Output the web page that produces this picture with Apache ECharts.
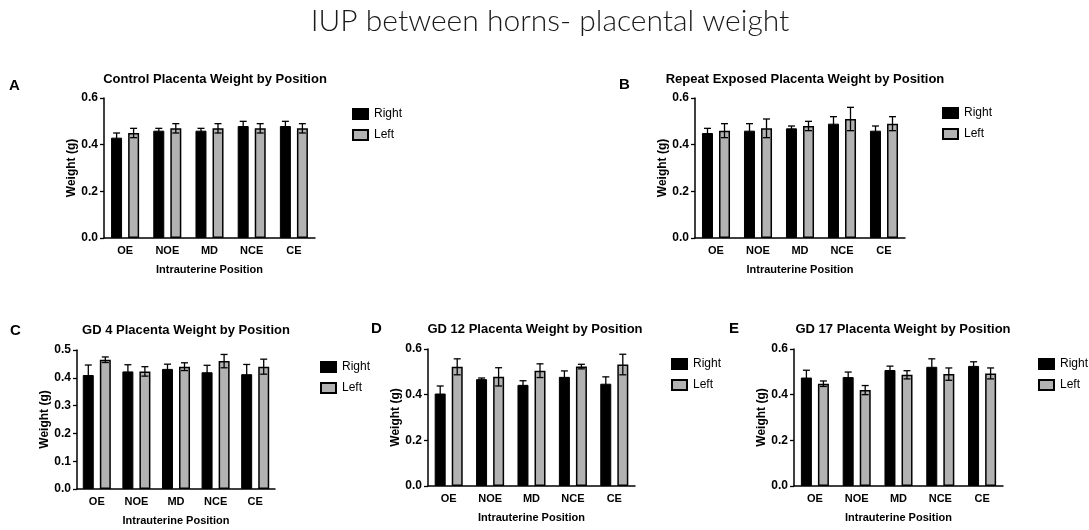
<!DOCTYPE html>
<html>
<head>
<meta charset="utf-8">
<title>IUP between horns- placental weight</title>
<script src="https://cdn.jsdelivr.net/npm/echarts@6/dist/echarts.min.js"></script>
<style>
  html, body { margin: 0; padding: 0; background: #fff; }
  #main { width: 1089px; height: 530px; }
</style>
</head>
<body>
<div id="main"></div>
<script>
// positions along the horn
var positions = ['OE', 'NOE', 'MD', 'NCE', 'CE'];

// panel titles
var panelTitles = [
  'Control Placenta Weight by Position',
  'Repeat Exposed Placenta Weight by Position',
  'GD 4 Placenta Weight by Position',
  'GD 12 Placenta Weight by Position',
  'GD 17 Placenta Weight by Position'
];
var panelLetters = ['A', 'B', 'C', 'D', 'E'];

// mean weight (g) and error
var controlRight = [0.43, 0.46, 0.46, 0.48, 0.48];
var controlRightErr = [0.02, 0.01, 0.01, 0.02, 0.02];
var controlLeft = [0.45, 0.47, 0.47, 0.47, 0.47];
var controlLeftErr = [0.02, 0.02, 0.02, 0.02, 0.02];

var repeatRight = [0.45, 0.46, 0.47, 0.49, 0.46];
var repeatRightErr = [0.02, 0.03, 0.01, 0.03, 0.02];
var repeatLeft = [0.46, 0.47, 0.48, 0.51, 0.49];
var repeatLeftErr = [0.03, 0.04, 0.02, 0.05, 0.03];

var gd4Right = [0.41, 0.423, 0.432, 0.42, 0.413];
var gd4RightErr = [0.036, 0.024, 0.017, 0.025, 0.035];
var gd4Left = [0.465, 0.423, 0.44, 0.46, 0.44];
var gd4LeftErr = [0.01, 0.017, 0.014, 0.024, 0.027];

var gd12Right = [0.405, 0.468, 0.443, 0.478, 0.448];
var gd12RightErr = [0.033, 0.005, 0.018, 0.026, 0.03];
var gd12Left = [0.522, 0.478, 0.505, 0.523, 0.532];
var gd12LeftErr = [0.035, 0.04, 0.03, 0.01, 0.045];

var gd17Right = [0.475, 0.477, 0.508, 0.522, 0.526];
var gd17RightErr = [0.032, 0.022, 0.017, 0.035, 0.018];
var gd17Left = [0.448, 0.42, 0.487, 0.49, 0.493];
var gd17LeftErr = [0.012, 0.02, 0.018, 0.027, 0.024];

// y axis ranges
var yMax = [0.6, 0.6, 0.5, 0.6, 0.6];
var yStep = [0.2, 0.2, 0.1, 0.2, 0.2];

var panels = [
  [controlRight, controlRightErr, controlLeft, controlLeftErr],
  [repeatRight, repeatRightErr, repeatLeft, repeatLeftErr],
  [gd4Right, gd4RightErr, gd4Left, gd4LeftErr],
  [gd12Right, gd12RightErr, gd12Left, gd12LeftErr],
  [gd17Right, gd17RightErr, gd17Left, gd17LeftErr]
];

// layout (pixels)
var grids = [
  { left: 104, top: 98, width: 211, height: 140 },
  { left: 695, top: 98, width: 210, height: 140 },
  { left: 77, top: 350, width: 198, height: 139 },
  { left: 428, top: 349, width: 207, height: 137 },
  { left: 794, top: 349, width: 209, height: 137 }
];
var titlePos = [[210, 68], [800, 68], [181, 319], [530, 318], [898, 318]];
var letterPos = [[4, 73], [614, 72], [5, 318], [366, 316], [724, 316]];
var legendPos = [[347, 103], [937, 102], [315, 356], [666, 353], [1033, 353]];

var BAR_W = 11;
var OFFSET = 8.5;
var GREY = '#b2b2b2';
var FONT = 'Liberation Sans, Arial, sans-serif';

function errorBars(offset) {
  return function (params, api) {
    var idx = api.value(0);
    var mean = api.value(1);
    var err = api.value(2);
    var top = api.coord([idx, mean + err]);
    var bot = api.coord([idx, mean - err]);
    var x = top[0] + offset;
    var cap = 3.5;
    var st = { stroke: '#000', lineWidth: 1.3 };
    return {
      type: 'group',
      children: [
        { type: 'line', shape: { x1: x, y1: top[1], x2: x, y2: bot[1] }, style: st },
        { type: 'line', shape: { x1: x - cap, y1: top[1], x2: x + cap, y2: top[1] }, style: st },
        { type: 'line', shape: { x1: x - cap, y1: bot[1], x2: x + cap, y2: bot[1] }, style: st }
      ]
    };
  };
}

var xAxes = [], yAxes = [], series = [], titles = [], legends = [];

titles.push({
  text: 'IUP between horns- placental weight',
  left: 545, top: 1, textAlign: 'center',
  textStyle: { fontFamily: 'Lato, sans-serif', fontWeight: 300, fontSize: 30, color: '#1a1a1a' }
});

for (var i = 0; i < 5; i++) {
  var d = panels[i];
  xAxes.push({
    type: 'category', gridIndex: i, data: positions,
    axisLine: { lineStyle: { color: '#000', width: 1.5 } },
    axisTick: { alignWithLabel: true, length: 4, lineStyle: { color: '#000', width: 1.3 } },
    axisLabel: { color: '#000', fontWeight: 'bold', fontSize: 11, fontFamily: FONT, margin: 7 },
    name: 'Intrauterine Position', nameLocation: 'middle', nameGap: 26,
    nameTextStyle: { color: '#000', fontWeight: 'bold', fontSize: 11, fontFamily: FONT }
  });
  yAxes.push({
    type: 'value', gridIndex: i, min: 0, max: yMax[i], interval: yStep[i],
    splitLine: { show: false },
    axisLine: { show: true, lineStyle: { color: '#000', width: 1.5 } },
    axisTick: { show: true, length: 4, lineStyle: { color: '#000', width: 1.3 } },
    axisLabel: {
      color: '#000', fontWeight: 'bold', fontSize: 12, fontFamily: FONT, margin: 6,
      formatter: function (v) { return v.toFixed(1); }
    },
    name: 'Weight (g)', nameLocation: 'middle', nameGap: 26, nameRotate: 90,
    nameTextStyle: { color: '#000', fontWeight: 'bold', fontSize: 12, fontFamily: FONT }
  });
  series.push({
    name: 'Right', type: 'bar', xAxisIndex: i, yAxisIndex: i,
    data: d[0], barWidth: BAR_W, barGap: '55%',
    itemStyle: { color: '#000', borderColor: '#000', borderWidth: 1 }
  });
  series.push({
    name: 'Left', type: 'bar', xAxisIndex: i, yAxisIndex: i,
    data: d[2], barWidth: BAR_W,
    itemStyle: { color: GREY, borderColor: '#000', borderWidth: 1.5 }
  });
  var rErr = d[0].map(function (v, k) { return [k, v, d[1][k]]; });
  var lErr = d[2].map(function (v, k) { return [k, v, d[3][k]]; });
  series.push({
    name: 'errR' + i, type: 'custom', xAxisIndex: i, yAxisIndex: i, z: 5,
    renderItem: errorBars(-OFFSET), data: rErr, encode: { x: 0, y: 1 }
  });
  series.push({
    name: 'errL' + i, type: 'custom', xAxisIndex: i, yAxisIndex: i, z: 5,
    renderItem: errorBars(OFFSET), data: lErr, encode: { x: 0, y: 1 }
  });
  titles.push({
    text: panelTitles[i], left: titlePos[i][0], top: titlePos[i][1], textAlign: 'center',
    textStyle: { color: '#000', fontWeight: 'bold', fontSize: 13, fontFamily: FONT }
  });
  titles.push({
    text: panelLetters[i], left: letterPos[i][0], top: letterPos[i][1],
    textStyle: { color: '#000', fontWeight: 'bold', fontSize: 15, fontFamily: FONT }
  });
  legends.push({
    data: ['Right', 'Left'], orient: 'vertical', icon: 'rect',
    left: legendPos[i][0], top: legendPos[i][1],
    itemWidth: 15, itemHeight: 10, itemGap: 9, selectedMode: false,
    textStyle: { color: '#000', fontSize: 12, fontFamily: FONT, padding: [0, 0, 0, 1] }
  });
}

var chart = echarts.init(document.getElementById('main'));
chart.setOption({
  animation: false,
  backgroundColor: '#fff',
  title: titles,
  legend: legends,
  grid: grids,
  xAxis: xAxes,
  yAxis: yAxes,
  series: series
});
</script>
</body>
</html>
